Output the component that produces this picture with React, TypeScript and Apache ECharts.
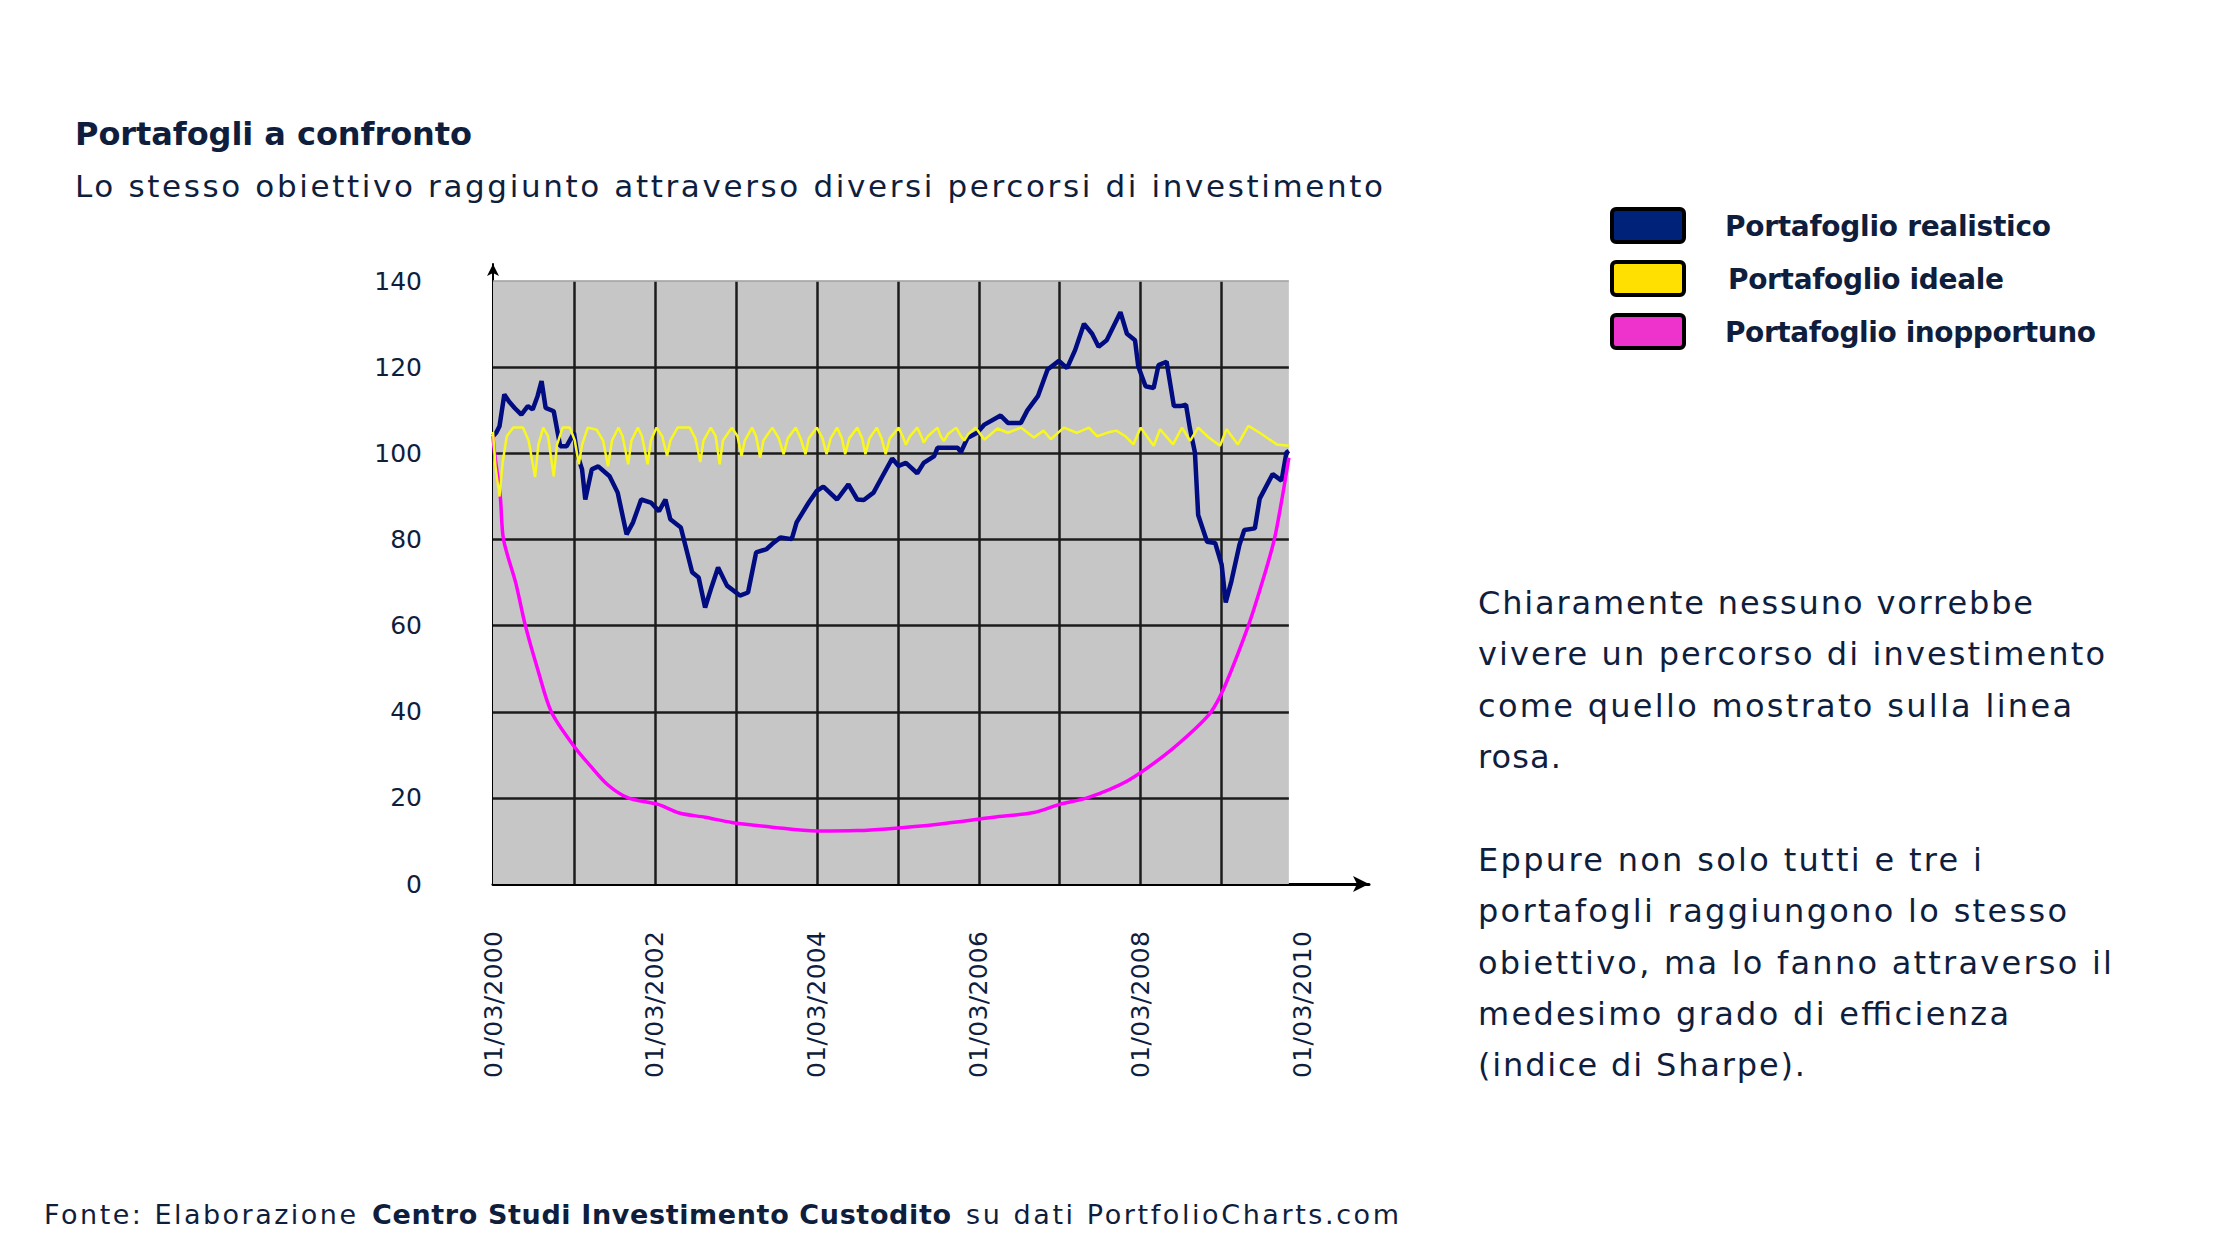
import React, { useEffect, useRef } from "react";
import * as echarts from "echarts";

const NAVY = "#0f1e3d";
const FONT = '"DejaVu Sans", sans-serif';

const titleText = "Portafogli a confronto";
const subtitleText = "Lo stesso obiettivo raggiunto attraverso diversi percorsi di investimento";
const noteLines = [
  "Chiaramente nessuno vorrebbe",
  "vivere un percorso di investimento",
  "come quello mostrato sulla linea",
  "rosa.",
  "",
  "Eppure non solo tutti e tre i",
  "portafogli raggiungono lo stesso",
  "obiettivo, ma lo fanno attraverso il",
  "medesimo grado di efficienza",
  "(indice di Sharpe).",
];
const noteWidths = [555, 627, 594, 83, 0, 504, 589, 634, 531, 327];
const footerParts = ["Fonte: Elaborazione", "Centro Studi Investimento Custodito", "su dati PortfolioCharts.com"];
const footerBold = [false, true, false];
const footerX = [44, 372, 966];
const footerWidths = [312, 579, 433];

const legendNames = ["Portafoglio realistico", "Portafoglio ideale", "Portafoglio inopportuno"];
const legendColors = ["#002279", "#ffe000", "#ee33cc"];
const legendTextX = [1725, 1728, 1725];
const legendWidths = [326, 276, 371];

const labelYears = [2000, 2002, 2004, 2006, 2008, 2010];
const yTicks = [0, 20, 40, 60, 80, 100, 120, 140];
const darkGridLevels = [20, 40, 60, 80, 100, 120];
const yearLines = [1, 2, 3, 4, 5, 6, 7, 8, 9];
const plotEnd = 9.83;
const plotTop = 140;

// years since 01/03/2000, value
const realistic: [number, number][] = [
  [0, 104], [0.04, 104.8], [0.08, 106.3], [0.14, 113.7], [0.2, 112], [0.27, 110.5], [0.35, 109],
  [0.43, 111], [0.49, 110.2], [0.55, 113.3], [0.6, 116.8], [0.65, 110.6], [0.75, 109.8],
  [0.83, 101.7], [0.91, 101.7], [1.0, 104.8], [1.04, 99.8], [1.1, 96.3], [1.14, 89.3],
  [1.22, 96.3], [1.3, 97], [1.44, 94.7], [1.54, 90.9], [1.65, 81.2], [1.73, 84], [1.83, 89.3],
  [1.95, 88.6], [2.05, 86.6], [2.13, 89.3], [2.19, 84.7], [2.32, 82.8], [2.46, 72.4],
  [2.54, 71.2], [2.62, 64.2], [2.7, 69], [2.78, 73.5], [2.89, 69.3], [3.05, 67], [3.15, 67.7],
  [3.25, 77], [3.38, 77.8], [3.45, 79], [3.55, 80.5], [3.69, 80.1], [3.75, 84], [3.9, 88.6],
  [4.0, 91.3], [4.08, 92.3], [4.25, 89.3], [4.39, 92.8], [4.5, 89.3], [4.58, 89.2], [4.7, 90.9],
  [4.81, 94.7], [4.93, 98.8], [5.01, 97.1], [5.1, 97.8], [5.24, 95.4], [5.32, 97.8],
  [5.45, 99.4], [5.49, 101.3], [5.74, 101.3], [5.78, 100.3], [5.86, 103.6], [5.98, 104.8],
  [6.07, 106.7], [6.27, 108.8], [6.36, 107.1], [6.52, 107.1], [6.6, 110], [6.73, 113.3],
  [6.85, 119.5], [6.99, 121.5], [7.09, 119.8], [7.19, 124], [7.3, 130.1], [7.4, 127.8],
  [7.48, 124.8], [7.58, 126.3], [7.75, 132.8], [7.83, 127.8], [7.93, 126.3], [7.97, 120.2],
  [8.06, 115.6], [8.16, 115.2], [8.22, 120.5], [8.32, 121.3], [8.41, 111], [8.49, 111],
  [8.56, 111.3], [8.61, 105.6], [8.67, 100.2], [8.71, 85.7], [8.82, 79.5], [8.92, 79.2],
  [9.0, 74.2], [9.05, 65.4], [9.12, 70.3], [9.22, 78.8], [9.28, 82.2], [9.41, 82.6],
  [9.47, 89.5], [9.63, 95.2], [9.74, 93.7], [9.8, 100.2], [9.83, 100.6],
];

const ideal: [number, number][] = [
  [0, 105], [0.03, 97], [0.08, 90], [0.12, 98], [0.17, 104], [0.25, 106], [0.37, 106],
  [0.44, 103], [0.52, 94.5], [0.56, 102], [0.62, 106], [0.68, 104], [0.75, 94.7], [0.79, 102],
  [0.86, 106], [0.95, 106], [1.01, 103], [1.06, 97.5], [1.1, 102], [1.17, 106], [1.28, 105.5],
  [1.36, 103], [1.42, 97], [1.47, 103], [1.55, 106], [1.6, 104], [1.67, 97.5], [1.71, 103],
  [1.79, 106], [1.84, 104], [1.91, 97.5], [1.95, 103], [2.02, 106], [2.09, 104], [2.15, 99.4],
  [2.19, 103], [2.28, 106], [2.43, 106], [2.5, 103.5], [2.56, 98], [2.6, 103], [2.69, 106],
  [2.75, 104], [2.8, 97.5], [2.84, 103], [2.95, 106], [3.02, 104], [3.07, 99.4], [3.11, 103],
  [3.2, 106], [3.25, 104], [3.3, 99], [3.34, 103], [3.45, 106], [3.53, 103.5], [3.59, 99.8],
  [3.64, 103.5], [3.74, 106], [3.8, 103.5], [3.86, 99.8], [3.9, 103.5], [4.0, 106],
  [4.07, 103.5], [4.12, 99.8], [4.17, 103.5], [4.25, 106], [4.31, 103.5], [4.35, 99.8],
  [4.4, 103.5], [4.5, 106], [4.56, 103.5], [4.6, 99.8], [4.65, 103.5], [4.74, 106],
  [4.8, 103.5], [4.85, 99.8], [4.9, 103.5], [5.01, 106], [5.06, 104], [5.1, 102], [5.15, 104],
  [5.24, 106], [5.29, 104], [5.32, 102.5], [5.37, 104], [5.49, 106], [5.53, 104], [5.57, 102.9],
  [5.62, 104.5], [5.72, 106], [5.78, 104], [5.82, 103], [5.87, 104.5], [5.96, 106],
  [6.07, 103.2], [6.23, 105.8], [6.36, 104.8], [6.52, 106], [6.68, 103.7], [6.8, 105.3],
  [6.89, 103.3], [7.05, 106], [7.21, 104.8], [7.36, 106], [7.46, 104], [7.62, 105], [7.7, 105.3],
  [7.81, 104], [7.91, 102.1], [8.0, 106], [8.16, 101.8], [8.24, 105.6], [8.4, 102.1], [8.51, 106],
  [8.61, 102.9], [8.71, 106], [8.84, 103.7], [8.98, 101.8], [9.06, 105.6], [9.2, 102.1],
  [9.33, 106.4], [9.47, 104.8], [9.68, 102.1], [9.83, 101.8],
];

const inopportune: [number, number][] = [
  [0, 104], [0.02, 100], [0.09, 90], [0.13, 80], [0.28, 70], [0.4, 60], [0.55, 50], [0.72, 40],
  [1.0, 32], [1.2, 27.5], [1.42, 23], [1.67, 20], [2.04, 18.5], [2.3, 16.5], [2.62, 15.5],
  [2.95, 14.3], [3.45, 13.2], [4.0, 12.3], [4.5, 12.4], [4.86, 12.8], [5.5, 13.9], [6.18, 15.5],
  [6.68, 16.6], [7.0, 18.5], [7.34, 20], [7.84, 24], [8.3, 30], [8.67, 36], [8.87, 40],
  [9.04, 46], [9.33, 60], [9.5, 70], [9.65, 80], [9.75, 90], [9.83, 99],
];

// target rendered widths of the spaced-out texts
const textLengths: Record<string, number> = {
  [titleText]: 397,
  [subtitleText]: 1308,
};
noteLines.forEach((l, i) => {
  if (l) textLengths[l] = noteWidths[i];
});
footerParts.forEach((p, i) => (textLengths[p] = footerWidths[i]));
legendNames.forEach((n, i) => (textLengths[n] = legendWidths[i]));
labelYears.forEach((y) => (textLengths[`01/03/${y}`] = 147));

function buildOption() {
  const gridLines: any[] = [];
  darkGridLevels.forEach((v) => gridLines.push([{ coord: [0, v] }, { coord: [plotEnd, v] }]));
  yearLines.forEach((x) => gridLines.push([{ coord: [x, 0] }, { coord: [x, plotTop] }]));
  gridLines.push([
    { coord: [0, plotTop], lineStyle: { color: "#9c9c9c", width: 1.5 } },
    { coord: [plotEnd, plotTop] },
  ]);

  const legendGraphics: any[] = [];
  legendNames.forEach((name, i) => {
    legendGraphics.push({
      type: "rect",
      x: 1612,
      y: 209 + i * 53,
      shape: { width: 72, height: 33, r: 4 },
      style: { fill: legendColors[i], stroke: "#000", lineWidth: 4 },
    });
    legendGraphics.push({
      type: "text",
      x: legendTextX[i],
      y: 226 + i * 53,
      style: {
        text: name,
        fill: NAVY,
        fontFamily: FONT,
        fontWeight: "bold",
        fontSize: 28,
        verticalAlign: "middle",
      },
    });
  });

  const footerGraphics = footerParts.map((p, i) => ({
    type: "text",
    x: footerX[i],
    y: 1214,
    style: {
      text: p,
      fill: NAVY,
      fontFamily: FONT,
      fontWeight: footerBold[i] ? "bold" : "normal",
      fontSize: 27,
      verticalAlign: "middle",
    },
  }));

  return {
    animation: false,
    backgroundColor: "#ffffff",
    grid: { left: 493, top: 264, width: 876, height: 620, containLabel: false },
    xAxis: {
      type: "value",
      min: 0,
      max: 10.82,
      interval: 1,
      axisLine: {
        show: true,
        onZero: false,
        symbol: ["none", "arrow"],
        symbolSize: [12, 16],
        lineStyle: { color: "#000", width: 3 },
      },
      axisTick: { show: false },
      splitLine: { show: false },
      axisLabel: {
        rotate: 90,
        margin: 47,
        color: NAVY,
        fontFamily: FONT,
        fontSize: 25,
        showMaxLabel: false,
        formatter: (v: number) => {
          const r = Math.round(v);
          if (Math.abs(v - r) < 1e-6 && labelYears.includes(2000 + r)) return `01/03/${2000 + r}`;
          return "";
        },
      },
    },
    yAxis: {
      type: "value",
      min: 0,
      max: 144,
      interval: 20,
      axisLine: {
        show: true,
        symbol: ["none", "arrow"],
        symbolSize: [9, 12],
        lineStyle: { color: "#000", width: 2 },
      },
      axisTick: { show: false },
      splitLine: { show: false },
      axisLabel: {
        margin: 71,
        color: NAVY,
        fontFamily: FONT,
        fontSize: 25,
        showMaxLabel: false,
        formatter: (v: number) => (yTicks.includes(v) ? String(v) : ""),
      },
    },
    series: [
      {
        type: "line",
        name: "sfondo",
        data: [],
        silent: true,
        z: 1,
        markArea: {
          silent: true,
          itemStyle: { color: "#c6c6c6" },
          data: [[{ coord: [0, 0] }, { coord: [plotEnd, plotTop] }]],
        },
      },
      {
        type: "line",
        name: "griglia",
        data: [],
        silent: true,
        z: 2,
        markLine: {
          silent: true,
          symbol: ["none", "none"],
          label: { show: false },
          lineStyle: { color: "#1c1c1c", width: 2.5, type: "solid" },
          data: gridLines,
        },
      },
      {
        type: "line",
        name: legendNames[0],
        data: realistic,
        showSymbol: false,
        z: 5,
        lineStyle: { color: "#000c80", width: 4.5 },
      },
      {
        type: "line",
        name: legendNames[2],
        data: inopportune,
        showSymbol: false,
        smooth: 0.3,
        z: 6,
        lineStyle: { color: "#ff00ff", width: 3.5 },
      },
      {
        type: "line",
        name: legendNames[1],
        data: ideal,
        showSymbol: false,
        z: 7,
        lineStyle: { color: "#f8f820", width: 2.5 },
      },
    ],
    graphic: [
      {
        type: "text",
        x: 75,
        y: 134,
        style: {
          text: titleText,
          fill: NAVY,
          fontFamily: FONT,
          fontWeight: "bold",
          fontSize: 32,
          verticalAlign: "middle",
        },
      },
      {
        type: "text",
        x: 75,
        y: 186,
        style: {
          text: subtitleText,
          fill: NAVY,
          fontFamily: FONT,
          fontSize: 31,
          verticalAlign: "middle",
        },
      },
      ...legendGraphics,
      {
        type: "text",
        x: 1478,
        y: 577,
        style: {
          text: noteLines.join("\n"),
          fill: NAVY,
          fontFamily: FONT,
          fontSize: 32,
          lineHeight: 51.4,
          verticalAlign: "top",
        },
      },
      ...footerGraphics,
    ],
  };
}

export default function App() {
  const ref = useRef<HTMLDivElement>(null);
  useEffect(() => {
    const el = ref.current;
    if (!el) return;
    const chart = echarts.init(el, undefined, { renderer: "svg" });
    chart.setOption(buildOption() as any);
    const spaceOut = () => {
      el.querySelectorAll("text").forEach((t) => {
        const s = (t.textContent || "").trim();
        const w = textLengths[s];
        if (w) {
          t.setAttribute("textLength", String(w));
          t.setAttribute("lengthAdjust", "spacing");
        }
      });
    };
    const zr: any = chart.getZr();
    if (zr && typeof zr.flush === "function") zr.flush();
    spaceOut();
    chart.on("finished", spaceOut);
    const t1 = window.setTimeout(spaceOut, 0);
    const t2 = window.setTimeout(spaceOut, 150);
    return () => {
      window.clearTimeout(t1);
      window.clearTimeout(t2);
      chart.dispose();
    };
  }, []);
  return (
    <div
      ref={ref}
      style={{ position: "fixed", left: 0, top: 0, width: 2240, height: 1260, background: "#fff" }}
    />
  );
}
